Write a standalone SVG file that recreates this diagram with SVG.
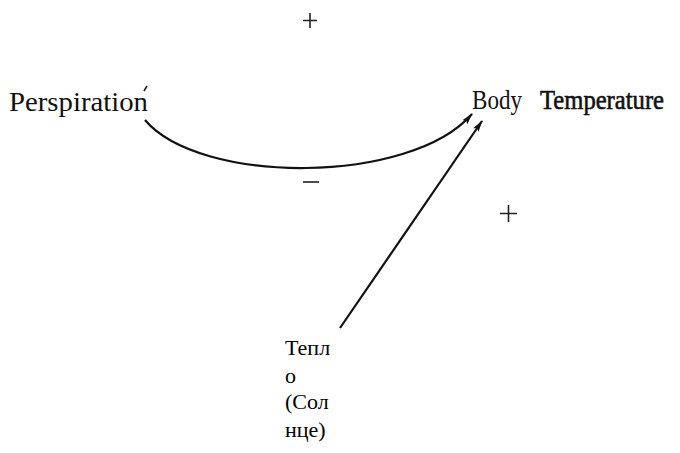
<svg xmlns="http://www.w3.org/2000/svg" width="680" height="453" viewBox="0 0 680 453">
<style>
.lbl{font-family:"Liberation Serif","DejaVu Serif","Times New Roman",serif;fill:#111}
.big{font-size:27px}
.ru{font-size:22px;fill:#000}
.sign{stroke:#222;stroke-width:1.6;fill:none}
.edge{stroke:#111;stroke-width:2.2;fill:none}
</style>
<defs>
<marker id="ah" viewBox="0 0 12 8" refX="11" refY="4" markerWidth="12" markerHeight="8" markerUnits="userSpaceOnUse" orient="auto">
<path d="M0,0.8 L12,4 L0,7.2 L2.5,4 Z" fill="#111"/>
</marker>
</defs>
<rect width="680" height="453" fill="#fff"/>
<g id="connectors">
<path class="edge" d="M145,120 C200,185 410,185 472,114" marker-end="url(#ah)"/>
<path class="edge" d="M340,328 L482,121" marker-end="url(#ah)"/>
<path d="M144,91 L147,86" stroke="#222" stroke-width="1.6"/>
</g>
<g id="perspiration">
<text class="lbl big" x="9" y="111" textLength="139" lengthAdjust="spacingAndGlyphs">Perspiration</text>
</g>
<g id="body-temperature">
<text class="lbl big" x="472" y="109" textLength="50" lengthAdjust="spacingAndGlyphs">Body</text>
<text class="lbl big" x="540" y="109" stroke="#111" stroke-width="0.6" textLength="124" lengthAdjust="spacingAndGlyphs">Temperature</text>
</g>
<g id="heat">
<text class="lbl ru" x="285" y="355">Тепл</text>
<text class="lbl ru" x="285" y="383">о</text>
<text class="lbl ru" x="285" y="409">(Сол</text>
<text class="lbl ru" x="285" y="437">нце)</text>
</g>
<g id="signs">
<path class="sign" d="M303,20.5 H317 M310,13 V28"/>
<path class="sign" d="M303,182 H319"/>
<path class="sign" d="M500,213.5 H517 M508.5,205 V222"/>
</g>
</svg>
